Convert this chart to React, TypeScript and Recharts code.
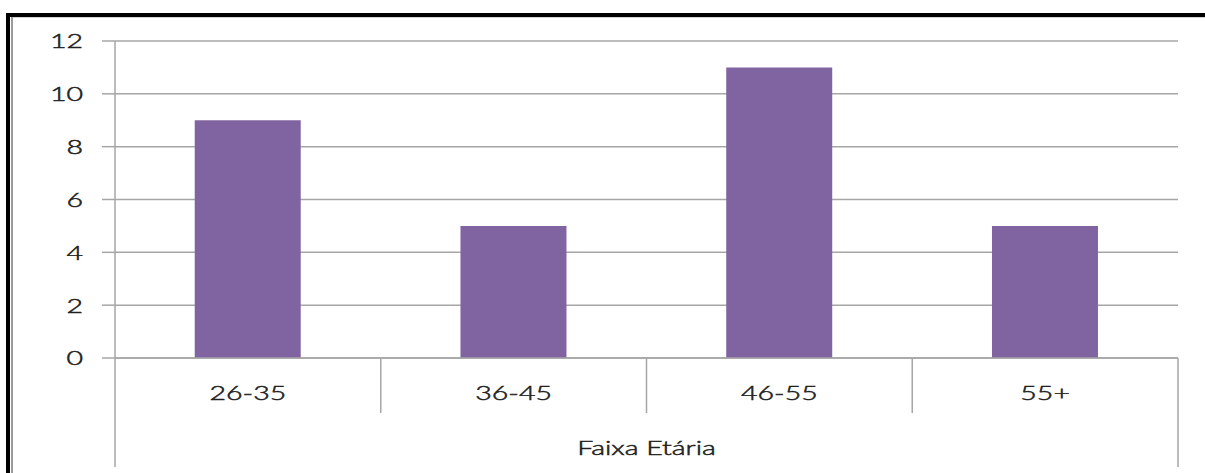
import { Bar, BarChart, CartesianGrid, Label, XAxis, YAxis } from "recharts";

const categories = ["26-35", "36-45", "46-55", "55+"];
const counts = [9, 5, 11, 5];
const yTicks = [0, 2, 4, 6, 8, 10, 12];
const axisTitle = "Faixa Etária";

const data = categories.map((faixa, i) => ({ faixa, total: counts[i] }));

const W = 1205;
const H = 473;
const PLOT_LEFT = 115;
const PLOT_RIGHT = 1178;
const PLOT_TOP = 41;
const PLOT_BOTTOM = 358;
const HALF_BAND = (PLOT_RIGHT - PLOT_LEFT) / categories.length / 2;

const LINE = "#a6a6a6";
const TEXT = "#1f1f1f";
const FONT = "Lato, 'Noto Sans', sans-serif";
const FONT_SIZE = 19;
const STRETCH = 1.5;

// text in this chart is drawn wide, so every label gets a horizontal scale
function WideText({ x, y, anchor, children }: { x: number; y: number; anchor: "start" | "middle" | "end"; children: string }) {
  return (
    <text
      x={0}
      y={0}
      transform={`translate(${x},${y}) scale(${STRETCH},1)`}
      textAnchor={anchor}
      dominantBaseline="central"
      fill={TEXT}
      stroke={TEXT}
      strokeWidth={0.5}
      fontFamily={FONT}
      fontSize={FONT_SIZE}
      fontWeight={300}
    >
      {children}
    </text>
  );
}

function YTick(props: any) {
  const { x, y, payload } = props;
  return <WideText x={x} y={y} anchor="end">{String(payload.value)}</WideText>;
}

// category labels plus the boxed multi-level axis lines under the plot
function XTick(props: any) {
  const { x, payload, index } = props;
  const last = index === categories.length - 1;
  return (
    <g>
      {index === 0 && (
        <line x1={x - HALF_BAND} x2={x - HALF_BAND} y1={PLOT_TOP} y2={467} stroke={LINE} strokeWidth={1.5} />
      )}
      <line
        x1={x + HALF_BAND}
        x2={x + HALF_BAND}
        y1={PLOT_BOTTOM}
        y2={last ? 467 : 413}
        stroke={LINE}
        strokeWidth={1.5}
      />
      <WideText x={x} y={393} anchor="middle">{String(payload.value)}</WideText>
    </g>
  );
}

function AxisTitle(props: any) {
  const vb = props.viewBox || {};
  return <WideText x={vb.x + vb.width / 2} y={448} anchor="middle">{axisTitle}</WideText>;
}

export default function App() {
  return (
    <div style={{ position: "absolute", left: 0, top: 0, width: W, height: H, background: "#fff", overflow: "hidden" }}>
      <div style={{ position: "absolute", left: 6, top: 13, width: W - 6, height: 4, background: "#000" }} />
      <div style={{ position: "absolute", left: 6, top: 13, width: 4, height: H - 13, background: "#000" }} />
      <div style={{ position: "absolute", left: 11, top: 17, width: 2, height: H - 17, background: "#9a9a9a" }} />
      <div style={{ position: "absolute", left: 13, top: 17, width: W - 13, height: 1, background: "#d0d0d0" }} />
      <div style={{ position: "absolute", left: 0, top: 0 }}>
        <BarChart
          width={W}
          height={H}
          data={data}
          margin={{ top: PLOT_TOP, right: W - PLOT_RIGHT, left: 0, bottom: 0 }}
          barCategoryGap="30%"
        >
          <CartesianGrid horizontal vertical={false} stroke={LINE} strokeWidth={1.5} />
          <XAxis
            dataKey="faixa"
            height={H - PLOT_BOTTOM}
            axisLine={{ stroke: LINE, strokeWidth: 1.5 }}
            tickLine={false}
            tick={<XTick />}
            interval={0}
          >
            <Label content={<AxisTitle />} />
          </XAxis>
          <YAxis
            width={PLOT_LEFT}
            domain={[0, 12]}
            ticks={yTicks}
            interval={0}
            axisLine={false}
            tickLine={{ stroke: LINE, strokeWidth: 1.5 }}
            tickSize={13}
            tickMargin={19}
            tick={<YTick />}
          />
          <Bar dataKey="total" fill="#8064a2" isAnimationActive={false} />
        </BarChart>
      </div>
    </div>
  );
}
